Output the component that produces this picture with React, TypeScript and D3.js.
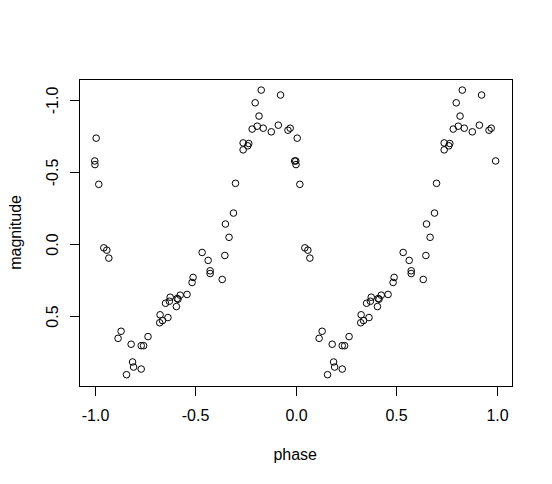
import React, { useEffect, useRef } from "react";
import * as d3 from "d3";

// folded phase (0..1) and magnitude of each observation
const phase = [
  0.001, 0.002, 0.008, 0.021, 0.046, 0.061, 0.071, 0.117, 0.132, 0.159,
  0.182, 0.189, 0.194, 0.232, 0.232, 0.244, 0.266, 0.324, 0.326, 0.338,
  0.353, 0.365, 0.372, 0.376, 0.407, 0.411, 0.415, 0.426, 0.46, 0.485,
  0.49, 0.535, 0.565, 0.575, 0.575, 0.635, 0.648, 0.651, 0.669, 0.691,
  0.701, 0.739, 0.739, 0.762, 0.767, 0.784, 0.799, 0.809, 0.818, 0.829,
  0.839, 0.879, 0.914, 0.925, 0.962, 0.973, 0.995
];
const magnitude = [
  -0.576, -0.551, -0.734, -0.414, 0.026, 0.042, 0.097, 0.653, 0.604, 0.905,
  0.694, 0.817, 0.852, 0.704, 0.866, 0.704, 0.641, 0.545, 0.49, 0.53,
  0.41, 0.509, 0.396, 0.368, 0.433, 0.377, 0.382, 0.354, 0.349, 0.266,
  0.231, 0.058, 0.113, 0.185, 0.204, 0.245, 0.079, -0.139, -0.047, -0.215,
  -0.421, -0.701, -0.653, -0.681, -0.697, -0.797, -0.979, -0.817, -0.887, -1.067,
  -0.803, -0.778, -0.824, -1.033, -0.789, -0.803, -0.576
];

const xTicks = [-1.0, -0.5, 0.0, 0.5, 1.0];
const yTicks = [-1.0, -0.5, 0.0, 0.5];

const App = () => {
  const ref = useRef<SVGSVGElement>(null);

  useEffect(() => {
    const width = 552;
    const height = 484;
    // R default margins: c(5,4,4,2)+0.1 lines, 19.2px per line
    const line = 19.2;
    const left = 4.1 * line;
    const right = width - 2.1 * line;
    const top = 4.1 * line;
    const bottom = height - 5.1 * line;

    // each phase is drawn twice: p - 1 and p
    const pts = phase.flatMap((p, i) => [
      { x: p - 1, y: magnitude[i] },
      { x: p, y: magnitude[i] }
    ]);

    const pad = (ext: [number, number]) => {
      const d = (ext[1] - ext[0]) * 0.04;
      return [ext[0] - d, ext[1] + d];
    };

    const x = d3.scaleLinear()
      .domain(pad(d3.extent(pts, d => d.x) as [number, number]))
      .range([left, right]);
    // magnitude axis is reversed
    const y = d3.scaleLinear()
      .domain(pad(d3.extent(pts, d => d.y) as [number, number]))
      .range([top, bottom]);

    const svg = d3.select(ref.current);
    svg.selectAll("*").remove();

    const font = "'Liberation Sans', Arial, sans-serif";

    svg.append("rect")
      .attr("width", width)
      .attr("height", height)
      .attr("fill", "white");

    // points
    svg.append("g")
      .selectAll("circle")
      .data(pts)
      .enter()
      .append("circle")
      .attr("cx", d => x(d.x))
      .attr("cy", d => y(d.y))
      .attr("r", 3.3)
      .attr("fill", "none")
      .attr("stroke", "black")
      .attr("stroke-width", 1);

    // box
    svg.append("rect")
      .attr("x", Math.round(left) + 0.5)
      .attr("y", Math.round(top) + 0.5)
      .attr("width", Math.round(right) - Math.round(left))
      .attr("height", Math.round(bottom) - Math.round(top))
      .attr("fill", "none")
      .attr("stroke", "black");

    const b = Math.round(bottom) + 0.5;
    const l = Math.round(left) + 0.5;

    // x axis
    const xa = svg.append("g");
    xa.append("line")
      .attr("x1", Math.round(x(xTicks[0])) + 0.5)
      .attr("x2", Math.round(x(xTicks[xTicks.length - 1])) + 0.5)
      .attr("y1", b).attr("y2", b)
      .attr("stroke", "black");
    xTicks.forEach(t => {
      const px = Math.round(x(t)) + 0.5;
      xa.append("line")
        .attr("x1", px).attr("x2", px)
        .attr("y1", b).attr("y2", b + 9.6)
        .attr("stroke", "black");
      xa.append("text")
        .attr("x", px)
        .attr("y", 421)
        .attr("text-anchor", "middle")
        .style("font-family", font)
        .style("font-size", "16px")
        .text(t.toFixed(1));
    });

    // y axis
    const ya = svg.append("g");
    ya.append("line")
      .attr("y1", Math.round(y(yTicks[0])) + 0.5)
      .attr("y2", Math.round(y(yTicks[yTicks.length - 1])) + 0.5)
      .attr("x1", l).attr("x2", l)
      .attr("stroke", "black");
    yTicks.forEach(t => {
      const py = Math.round(y(t)) + 0.5;
      ya.append("line")
        .attr("y1", py).attr("y2", py)
        .attr("x1", l).attr("x2", l - 9.6)
        .attr("stroke", "black");
      ya.append("text")
        .attr("transform", `translate(58,${py}) rotate(-90)`)
        .attr("text-anchor", "middle")
        .style("font-family", font)
        .style("font-size", "16px")
        .text(t.toFixed(1));
    });

    // axis titles
    svg.append("text")
      .attr("x", (left + right) / 2)
      .attr("y", 460)
      .attr("text-anchor", "middle")
      .style("font-family", font)
      .style("font-size", "16px")
      .text("phase");
    svg.append("text")
      .attr("transform", `translate(21,${(top + bottom) / 2}) rotate(-90)`)
      .attr("text-anchor", "middle")
      .style("font-family", font)
      .style("font-size", "16px")
      .text("magnitude");
  }, []);

  return (
    <svg
      ref={ref}
      width={552}
      height={484}
      style={{ position: "absolute", left: 0, top: 0 }}
    />
  );
};

export default App;
